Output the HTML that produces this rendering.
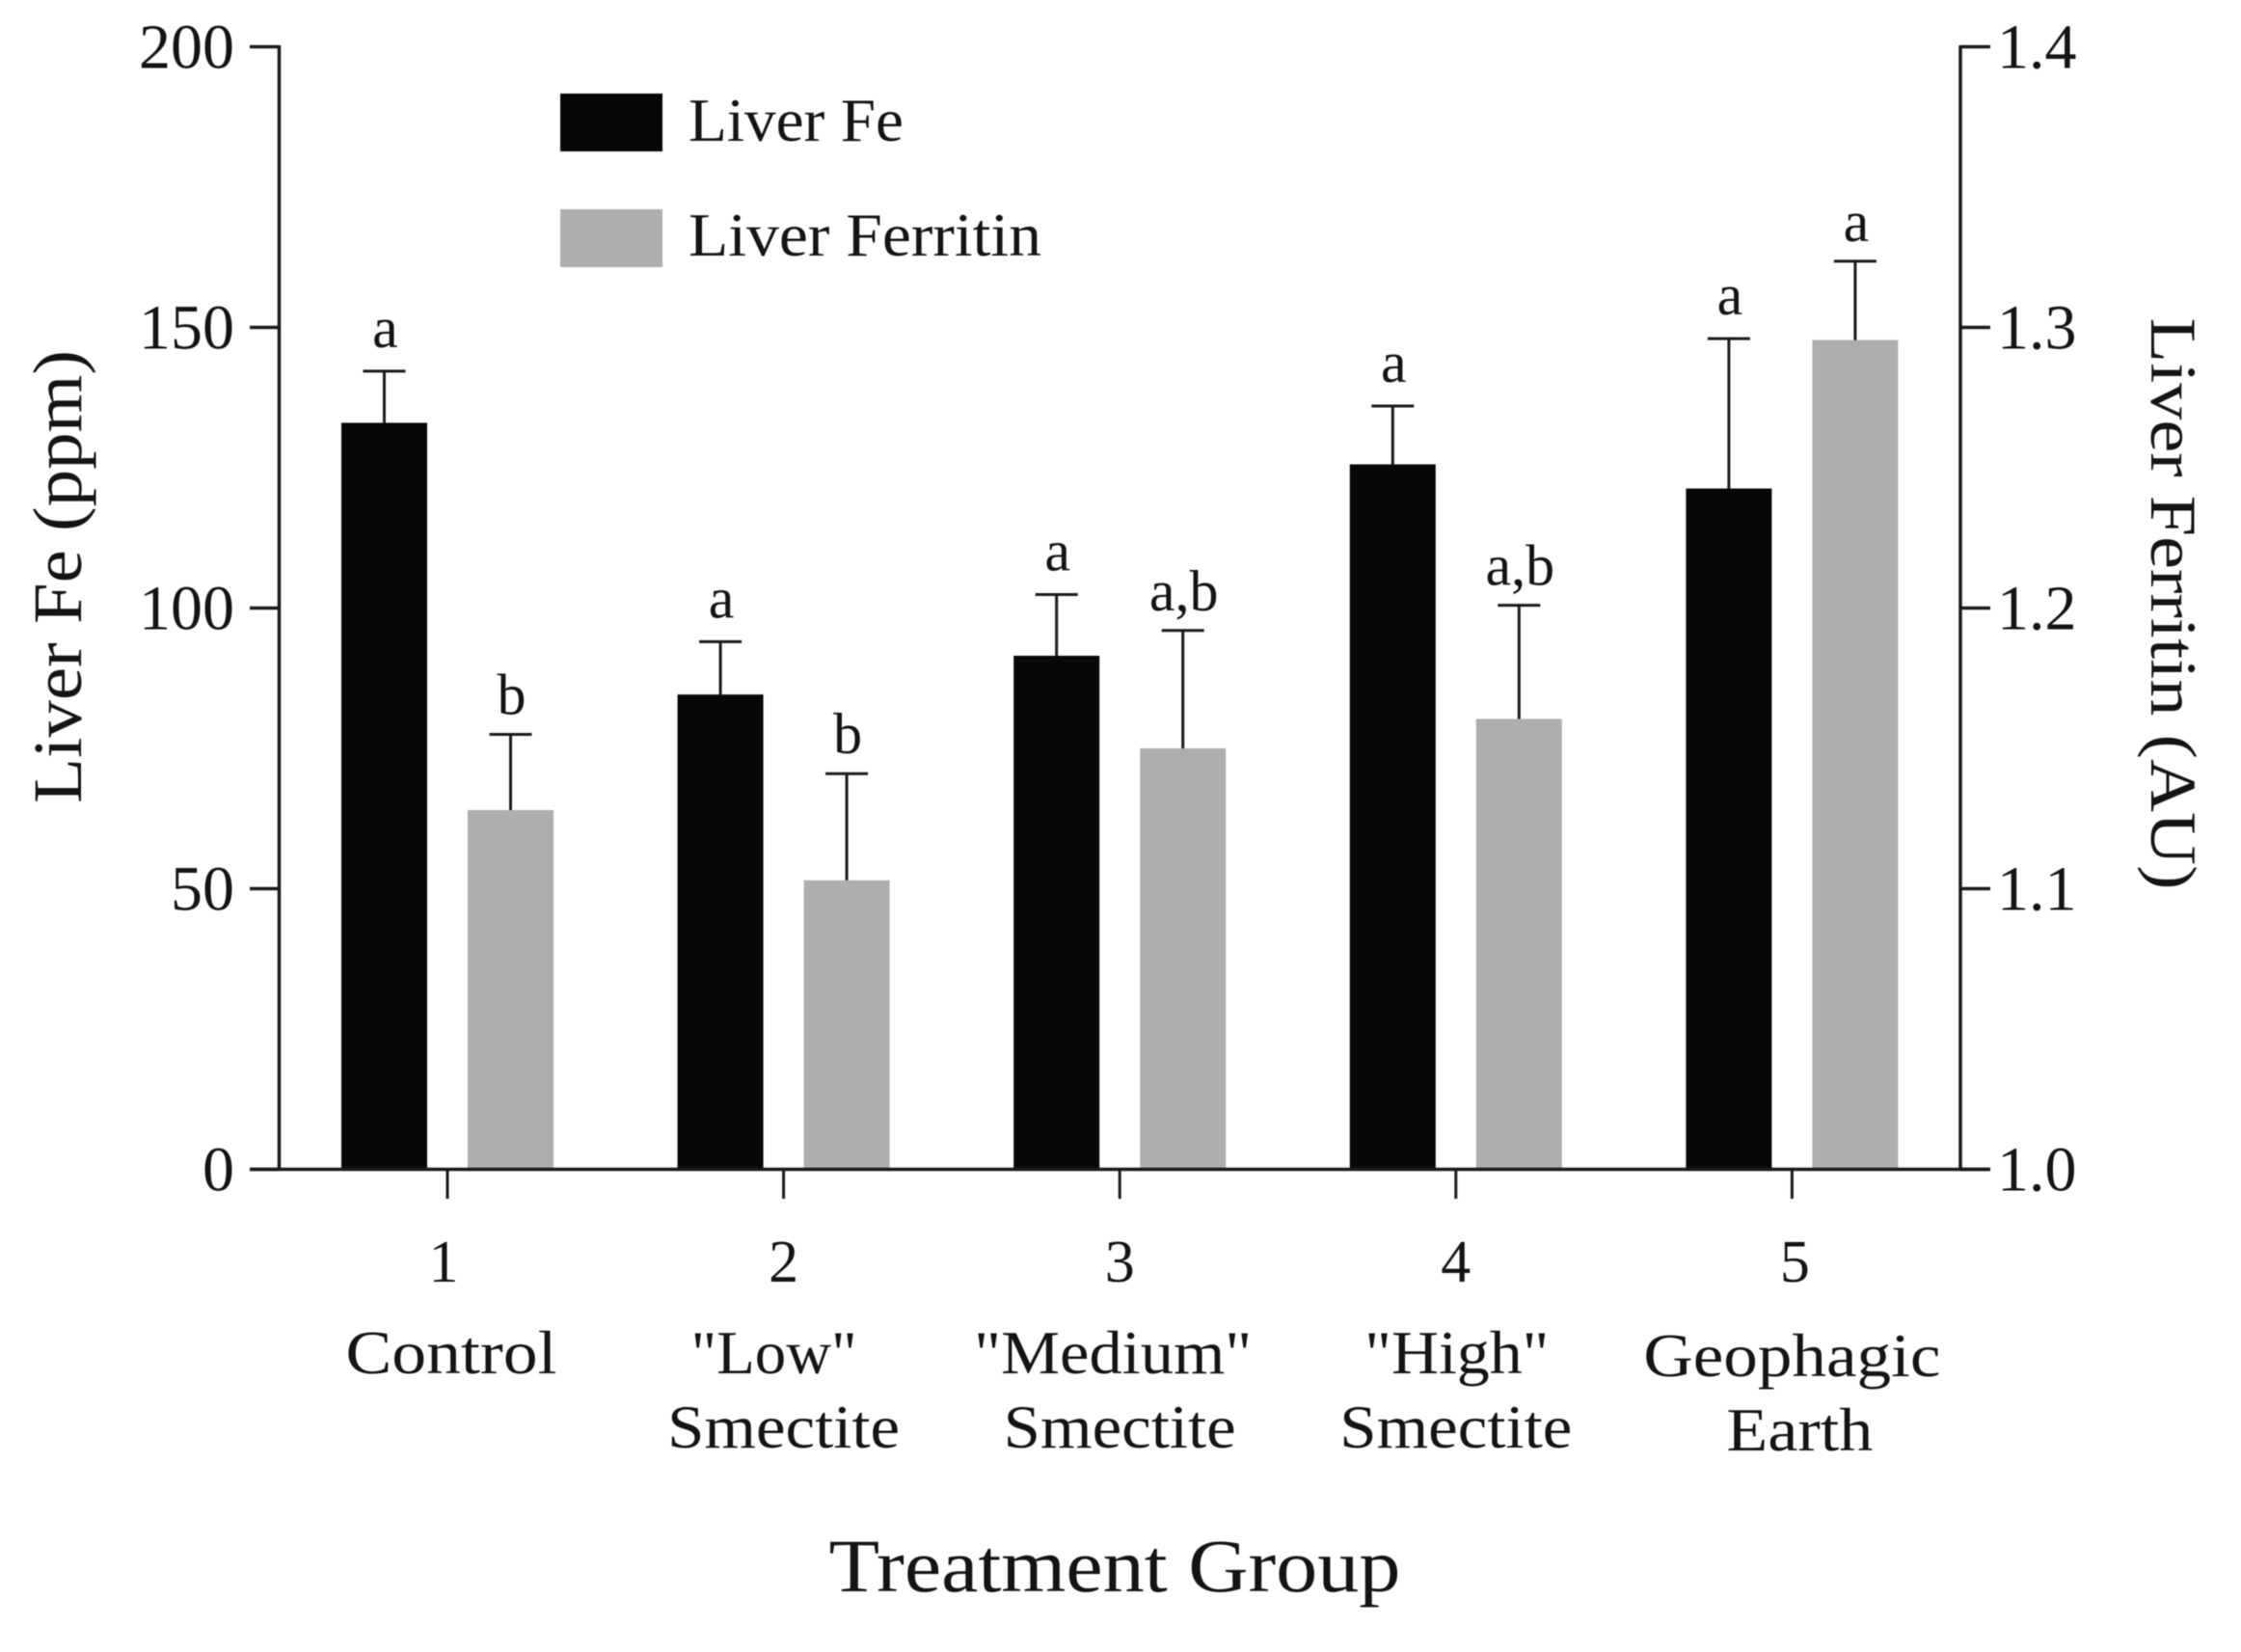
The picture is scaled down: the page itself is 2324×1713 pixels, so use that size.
<!DOCTYPE html>
<html lang="en">
<head>
<meta charset="utf-8">
<title>Liver Fe and Liver Ferritin by Treatment Group</title>
<style>
html,body{margin:0;padding:0;background:#fff;width:2324px;height:1713px;overflow:hidden}
svg{display:block;filter:blur(0.6px)}
text{font-family:"Liberation Serif",serif;fill:#141414}
</style>
</head>
<body>
<svg id="chart" xmlns="http://www.w3.org/2000/svg" width="2324" height="1713" viewBox="0 0 2324 1713"></svg>
<script>
const groupNumbers = ['1', '2', '3', '4', '5'];
const categoryLine1 = ['Control', '"Low"', '"Medium"', '"High"', 'Geophagic'];
const categoryLine2 = ['', 'Smectite', 'Smectite', 'Smectite', 'Earth'];
const liverFe = [133, 84.6, 91.5, 125.6, 121.3];
const liverFeUpper = [142.2, 94, 102.4, 136, 148];
const liverFerritin = [1.128, 1.103, 1.150, 1.1605, 1.2955];
const liverFerritinUpper = [1.155, 1.141, 1.192, 1.201, 1.3236];
const feLetters = ['a', 'a', 'a', 'a', 'a'];
const ferritinLetters = ['b', 'b', 'a,b', 'a,b', 'a'];
const leftTicks = [0, 50, 100, 150, 200];
const rightTicks = [1.0, 1.1, 1.2, 1.3, 1.4];

const svg = document.getElementById('chart');
const NS = 'http://www.w3.org/2000/svg';
const plotTop = 48.5, plotBottom = 1212.5, leftX = 289.5, rightX = 2033;
const firstGroupX = 464, groupStep = 348.6, barW = 89, barOffset = 65.5;
const yLeft = v => plotBottom - (v - 0) / 200 * (plotBottom - plotTop);
const yRight = v => plotBottom - (v - 1.0) / 0.4 * (plotBottom - plotTop);
const xGroup = i => firstGroupX + i * groupStep;

function mk(tag, attrs, parent) {
  const el = document.createElementNS(NS, tag);
  for (const k in attrs) el.setAttribute(k, attrs[k]);
  (parent || svg).appendChild(el);
  return el;
}
function txt(str, attrs, parent) {
  const el = mk('text', attrs, parent);
  el.textContent = str;
  return el;
}
const AXIS = '#1a1a1a';

// Bars and error bars
liverFe.forEach((v, i) => {
  const cx = xGroup(i) - barOffset;
  const bar = mk('rect', {x: cx - barW / 2, y: yLeft(v), width: barW, height: plotBottom - yLeft(v), fill: '#060709'});
  
  
  const stem = mk('line', {x1: cx, x2: cx, y1: yLeft(v), y2: yLeft(liverFeUpper[i]), stroke: AXIS, 'stroke-width': 3});
  
  
  const cap = mk('line', {x1: cx - 22, x2: cx + 22, y1: yLeft(liverFeUpper[i]), y2: yLeft(liverFeUpper[i]), stroke: AXIS, 'stroke-width': 3});
  
  
  const letter = txt(feLetters[i], {x: cx + 1, y: yLeft(liverFeUpper[i]) - 25, 'font-size': 60, 'text-anchor': 'middle'});
  
  
});
liverFerritin.forEach((v, i) => {
  const cx = xGroup(i) + barOffset;
  const bar = mk('rect', {x: cx - barW / 2, y: yRight(v), width: barW, height: plotBottom - yRight(v), fill: '#aeaeb0'});
  
  
  const stem = mk('line', {x1: cx, x2: cx, y1: yRight(v), y2: yRight(liverFerritinUpper[i]), stroke: AXIS, 'stroke-width': 3});
  
  
  const cap = mk('line', {x1: cx - 22, x2: cx + 22, y1: yRight(liverFerritinUpper[i]), y2: yRight(liverFerritinUpper[i]), stroke: AXIS, 'stroke-width': 3});
  
  
  const letter = txt(ferritinLetters[i], {x: cx + 1, y: yRight(liverFerritinUpper[i]) - 21, 'font-size': 60, 'text-anchor': 'middle'});
  
  
});

// Axes
const leftAxis = mk('line', {x1: leftX, x2: leftX, y1: plotTop - 1.5, y2: plotBottom + 1.5, stroke: AXIS, 'stroke-width': 3.5});


const rightAxis = mk('line', {x1: rightX, x2: rightX, y1: plotTop - 1.5, y2: plotBottom + 1.5, stroke: AXIS, 'stroke-width': 3.5});


const xAxis = mk('line', {x1: 259, x2: 2064, y1: plotBottom, y2: plotBottom, stroke: AXIS, 'stroke-width': 3.5});



leftTicks.forEach(t => {
  const tick = mk('line', {x1: 259, x2: leftX, y1: yLeft(t), y2: yLeft(t), stroke: AXIS, 'stroke-width': 3.5});
  
  
  const lab = txt(String(t), {x: 243, y: yLeft(t) + 22, 'font-size': 66, 'text-anchor': 'end'});
  
  
});
rightTicks.forEach(t => {
  const tick = mk('line', {x1: rightX, x2: 2064, y1: yRight(t), y2: yRight(t), stroke: AXIS, 'stroke-width': 3.5});
  
  
  const lab = txt(t.toFixed(1), {x: 2071, y: yRight(t) + 22, 'font-size': 66});
  
  
});
const line1Widths = [219, 172, 288, 191, 308];
groupNumbers.forEach((g, i) => {
  const cx = xGroup(i);
  const tick = mk('line', {x1: cx, x2: cx, y1: plotBottom, y2: 1243, stroke: AXIS, 'stroke-width': 3});
  
  
  const numShift = i === 0 ? -4 : i === 4 ? 3 : 0;
  const num = txt(g, {x: cx + numShift, y: 1329, 'font-size': 62, 'text-anchor': 'middle'});
  
  
  const geo = i === 4 ? 3 : 0;
  const shift1 = i === 0 ? 4 : i === 1 ? -10 : i === 2 ? -7 : i === 3 ? 1 : 0;
  const l1 = txt(categoryLine1[i], {x: cx + shift1, y: 1424 + geo, 'font-size': 64, 'text-anchor': 'middle', textLength: line1Widths[i], lengthAdjust: 'spacingAndGlyphs'});
  
  
  if (categoryLine2[i]) {
    const l2 = txt(categoryLine2[i], {x: cx + (i === 4 ? 8 : 0), y: 1501 + geo, 'font-size': 64, 'text-anchor': 'middle', textLength: i === 4 ? 152 : 241, lengthAdjust: 'spacingAndGlyphs'});
    
    
  }
});
</script>
<script>
// Titles and legend
const yTitle = txt('Liver Fe (ppm)', {transform: 'translate(84,598) rotate(-90)', 'font-size': 72, 'text-anchor': 'middle', textLength: 470, lengthAdjust: 'spacingAndGlyphs'});


const y2Title = txt('Liver Ferritin (AU)', {transform: 'translate(2231,626) rotate(90)', 'font-size': 68, 'text-anchor': 'middle', textLength: 593, lengthAdjust: 'spacingAndGlyphs'});


const xTitle = txt('Treatment Group', {x: 1156, y: 1650, 'font-size': 78, 'text-anchor': 'middle', textLength: 593, lengthAdjust: 'spacingAndGlyphs'});



const feSwatch = mk('rect', {x: 581, y: 97, width: 106, height: 60, fill: '#060709'});


const feLabel = txt('Liver Fe', {x: 714, y: 146, 'font-size': 64, textLength: 223, lengthAdjust: 'spacingAndGlyphs'});


const ferritinSwatch = mk('rect', {x: 581, y: 217, width: 106, height: 60, fill: '#aeaeb0'});


const ferritinLabel = txt('Liver Ferritin', {x: 714, y: 265, 'font-size': 64, textLength: 366, lengthAdjust: 'spacingAndGlyphs'});


</script>
</body>
</html>
